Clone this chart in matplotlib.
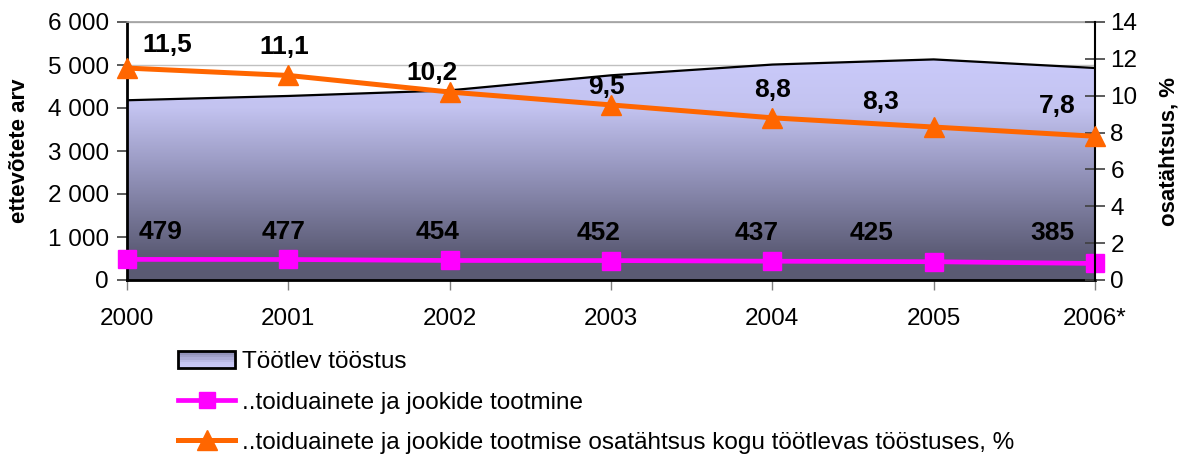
import numpy as np
import matplotlib
matplotlib.use("Agg")
import matplotlib.pyplot as plt
from matplotlib.patches import Polygon, Rectangle
from matplotlib.lines import Line2D
from matplotlib.legend_handler import HandlerBase

plt.rcParams['font.family'] = ['Liberation Sans', 'DejaVu Sans']

# ---- data ----
years = ["2000", "2001", "2002", "2003", "2004", "2005", "2006*"]
tootlev = [4180, 4280, 4410, 4760, 5010, 5130, 4930]
toidu = [479, 477, 454, 452, 437, 425, 385]
osakaal = [11.5, 11.1, 10.2, 9.5, 8.8, 8.3, 7.8]
toidu_labels = ["479", "477", "454", "452", "437", "425", "385"]
osakaal_labels = ["11,5", "11,1", "10,2", "9,5", "8,8", "8,3", "7,8"]
left_ticks = [0, 1000, 2000, 3000, 4000, 5000, 6000]
left_ticklabels = ["0", "1 000", "2 000", "3 000", "4 000", "5 000", "6 000"]
right_ticks = [0, 2, 4, 6, 8, 10, 12, 14]

legend_labels = ["Töötlev tööstus",
                 "..toiduainete ja jookide tootmine",
                 "..toiduainete ja jookide tootmise osatähtsus kogu töötlevas tööstuses, %"]

# label offsets (pixels) - styling only
toidu_off = [(34, 27), (-5, 27), (-12, 28), (-12, 28), (-16, 28), (-62, 29), (-43, 30)]
osak_off = [(40, 23), (-4, 28), (-18, 19), (-5, 18), (0, 28), (-53, 25), (-38, 30)]

ORANGE = "#FF6600"
MAGENTA = "#FF00FF"

fig = plt.figure(figsize=(11.81, 4.54), dpi=100)
ax1 = fig.add_axes([127/1181, 1-280/454, (1095-127)/1181, (280-22)/454])
x = np.arange(len(years))

# gradient area
stops = [(0.0, (90, 90, 115)), (0.12, (92, 92, 118)), (0.5, (150, 150, 190)),
         (0.78, (195, 195, 240)), (1.0, (202, 202, 250))]
n = 256
fr = np.linspace(0, 1, n)
cols = np.zeros((n, 1, 3))
for c in range(3):
    cols[:, 0, c] = np.interp(fr, [s[0] for s in stops], [s[1][c] / 255 for s in stops])
ymax = max(tootlev)
poly = Polygon(list(zip(x, tootlev)) + [(x[-1], 0), (x[0], 0)], closed=True,
               facecolor='none', edgecolor='none', transform=ax1.transData)
ax1.add_patch(poly)
im = ax1.imshow(cols, extent=[x[0], x[-1], 0, ymax], origin='lower', aspect='auto',
                zorder=2, interpolation='bilinear')
im.set_clip_path(poly)
ax1.plot(x, tootlev, color='black', lw=1.6, zorder=3)

# magenta line
ax1.plot(x, toidu, color=MAGENTA, lw=3.4, marker='s', ms=13, mec=MAGENTA,
         zorder=4, clip_on=False)
for i, (v, lab) in enumerate(zip(toidu, toidu_labels)):
    ax1.annotate(lab, xy=(x[i], v), xytext=toidu_off[i], textcoords='offset pixels',
                 ha='center', va='center', fontsize=19, fontweight='bold', zorder=5)

ax1.set_xlim(x[0], x[-1])
ax1.set_ylim(0, 6000)
ax1.set_yticks(left_ticks)
ax1.set_yticklabels(left_ticklabels)
ax1.set_xticks(x)
ax1.set_xticklabels(years)
ax1.grid(axis='y', color='#c0c0c0', lw=1, zorder=0)
ax1.set_axisbelow(True)
ax1.tick_params(axis='y', direction='out', length=7, width=1.2, color='#404040',
                labelsize=17.5, pad=6)
ax1.tick_params(axis='x', direction='out', length=7, width=1, color='#808080',
                labelsize=17.5, pad=13)
for s in ['left', 'bottom']:
    ax1.spines[s].set_color('black')
    ax1.spines[s].set_linewidth(2)
ax1.spines['top'].set_color('#a0a0a0')
ax1.spines['top'].set_linewidth(1.2)
ax1.spines['right'].set_visible(False)
ax1.set_ylabel("ettevõtete arv", fontsize=16, fontweight='bold')
ax1.yaxis.label.set_va('center')
ax1.yaxis.set_label_coords((20 - 127) / 968, 0.5)

# right axis
ax2 = ax1.twinx()
ax2.plot(x, osakaal, color=ORANGE, lw=3.6, marker='^', ms=15, mec=ORANGE,
         zorder=4, clip_on=False)
for i, (v, lab) in enumerate(zip(osakaal, osakaal_labels)):
    ax2.annotate(lab, xy=(x[i], v), xytext=osak_off[i], textcoords='offset pixels',
                 ha='center', va='center', fontsize=19, fontweight='bold', zorder=5)
ax2.set_ylim(0, 14)
ax2.set_yticks(right_ticks)
ax2.tick_params(axis='y', direction='inout', length=14, width=1.2, color='#404040',
                labelsize=17.5, pad=4)
for s in ['left', 'top', 'bottom']:
    ax2.spines[s].set_visible(False)
ax2.spines['right'].set_color('black')
ax2.spines['right'].set_linewidth(1.5)
ax2.set_ylabel("osatähtsus, %", fontsize=16, fontweight='bold', rotation=90)
ax2.yaxis.label.set_va('center')
ax2.yaxis.set_label_coords((1169 - 127) / 968, 0.5)


# legend with gradient patch handle
class GradHandler(HandlerBase):
    def create_artists(self, legend, orig_handle, xdescent, ydescent, width, height,
                       fontsize, trans):
        arts = []
        k = 8
        h = height * 1.0
        y0 = -ydescent - (h - height) / 2
        for j in range(k):
            f = 1 - (j + 0.5) / k
            c = [np.interp(0.35 + 0.65 * f, [s[0] for s in stops], [s[1][m] / 255 for s in stops]) for m in range(3)]
            r = Rectangle((-xdescent, y0 + h * j / k), width, h / k + 0.3,
                          facecolor=c, edgecolor='none', transform=trans)
            arts.append(r)
        border = Rectangle((-xdescent, y0), width, h, facecolor='none',
                           edgecolor='black', lw=2, transform=trans)
        arts.append(border)
        return arts


h_area = Rectangle((0, 0), 1, 1)
h_mag = Line2D([], [], color=MAGENTA, lw=3.4, marker='s', ms=12, mec=MAGENTA)
h_or = Line2D([], [], color=ORANGE, lw=3.6, marker='^', ms=14, mec=ORANGE)
leg = fig.legend([h_area, h_mag, h_or], legend_labels, loc='upper left',
                 bbox_to_anchor=(178/1181, 1-351/454), frameon=False, fontsize=17.5,
                 handlelength=2.35, handletextpad=0.28, labelspacing=0.76,
                 handler_map={Rectangle: GradHandler()}, borderaxespad=0, borderpad=0)

fig.savefig("out.png", dpi=100)
